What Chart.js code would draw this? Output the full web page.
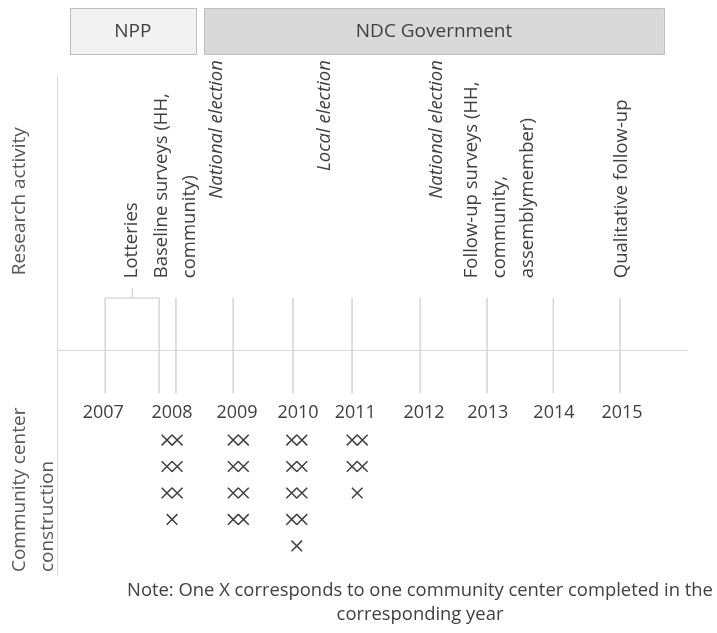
<!DOCTYPE html>
<html>
<head>
<meta charset="utf-8">
<script src="https://cdn.jsdelivr.net/npm/chart.js@4.4.1/dist/chart.umd.min.js"></script>
<style>
    html, body { margin: 0; padding: 0; background: #fff; }
</style>
</head>
<body>
<canvas id="timelineChart" width="717" height="633"></canvas>
<script>
// Year axis
const YEARS = ['2007', '2008', '2009', '2010', '2011', '2012', '2013', '2014', '2015'];
const YEAR_POS = [2006.97, 2008.04, 2009.05, 2010.0, 2010.89, 2011.96, 2012.95, 2013.98, 2015.04];

// Vertical event lines (timeline marks) and the lottery bracket
const EVENT_LINES = [2007.0, 2007.84, 2008.10, 2008.99, 2009.92, 2010.84, 2011.90, 2012.94, 2013.97, 2015.01];
const LOTTERY_START = 2007.0;
const LOTTERY_END = 2007.84;

// Community centers completed per year (one X each)
const CONSTRUCTION_YEARS = ['2008', '2009', '2010', '2011'];
const CONSTRUCTION_POS = [2008.04, 2009.07, 2009.98, 2010.92];
const CENTERS_COMPLETED = [7, 8, 9, 5];

// Governments
const GOVERNMENTS = ['NPP', 'NDC Government'];
const GOV_START = [2006.45, 2008.54];
const GOV_END = [2008.41, 2015.69];
const GOV_FILL = ['#f2f2f2', '#d9d9d9'];

// Research activity labels
const ACTIVITY_LABELS = [
    ['Lotteries'],
    ['Baseline surveys (HH,', 'community)'],
    ['National election'],
    ['Local election'],
    ['National election'],
    ['Follow-up surveys (HH,', 'community,', 'assemblymember)'],
    ['Qualitative follow-up']
];
const ACTIVITY_POS = [2007.42, 2008.10, 2008.74, 2010.42, 2012.16, 2013.14, 2015.04];
const ACTIVITY_ITALIC = [false, false, true, true, true, false, false];

const NOTE_LINES = [
    'Note: One X corresponds to one community center completed in the',
    'corresponding year'
];

const FONT = "'Open Sans', Lato, sans-serif";
const TEXT_COLOR = '#404040';
const LINE_COLOR = '#d9d9d9';

// layout of the drawing in y units (baseline = 0)
const LINE_TOP = 1.97;
const LINE_BOTTOM = -1.63;
const STEM_TOP = 2.34;
const ROW_START = -3.4;
const LABEL_BOTTOM = 2.72;
const ITALIC_TOP = 10.96;
const PAIR_OFFSET = 0.08;

// build datasets
const eventLineData = [];
EVENT_LINES.forEach(x => {
    eventLineData.push({x: x, y: LINE_TOP}, {x: x, y: LINE_BOTTOM}, {x: x, y: null});
});

const lotteryMid = (LOTTERY_START + LOTTERY_END) / 2;
const bracketData = [
    {x: LOTTERY_START, y: LINE_TOP}, {x: LOTTERY_END, y: LINE_TOP}, {x: LOTTERY_END, y: null},
    {x: lotteryMid, y: LINE_TOP}, {x: lotteryMid, y: STEM_TOP}
];

const centerPoints = [];
CENTERS_COMPLETED.forEach((count, i) => {
    const cx = CONSTRUCTION_POS[i];
    for (let row = 0; row * 2 < count; row++) {
        const y = ROW_START - row;
        if (count - row * 2 >= 2) {
            centerPoints.push({x: cx - PAIR_OFFSET, y: y}, {x: cx + PAIR_OFFSET, y: y});
        } else {
            centerPoints.push({x: cx, y: y});
        }
    }
});

function drawRotated(ctx, lines, cx, anchorY, align, spacing) {
    ctx.save();
    ctx.translate(cx, anchorY);
    ctx.rotate(-Math.PI / 2);
    ctx.textAlign = align;
    ctx.textBaseline = 'middle';
    lines.forEach((line, j) => {
        ctx.fillText(line, 0, (j - (lines.length - 1) / 2) * spacing);
    });
    ctx.restore();
}

const annotationPlugin = {
    id: 'timelineText',
    afterDraw(chart) {
        const ctx = chart.ctx;
        const xs = chart.scales.x;
        const ys = chart.scales.y;

        // government boxes
        GOVERNMENTS.forEach((name, i) => {
            const x1 = xs.getPixelForValue(GOV_START[i]);
            const x2 = xs.getPixelForValue(GOV_END[i]);
            ctx.save();
            ctx.fillStyle = GOV_FILL[i];
            ctx.strokeStyle = '#bfbfbf';
            ctx.lineWidth = 1;
            ctx.fillRect(x1, 8, x2 - x1, 47);
            ctx.strokeRect(Math.round(x1) + 0.5, 8.5, Math.round(x2 - x1), 46);
            ctx.fillStyle = TEXT_COLOR;
            ctx.font = '19px ' + FONT;
            ctx.textAlign = 'center';
            ctx.textBaseline = 'middle';
            ctx.fillText(name, (x1 + x2) / 2, 32);
            ctx.restore();
        });

        // research activity labels
        ctx.save();
        ctx.fillStyle = TEXT_COLOR;
        ACTIVITY_LABELS.forEach((lines, i) => {
            const cx = xs.getPixelForValue(ACTIVITY_POS[i]);
            if (ACTIVITY_ITALIC[i]) {
                ctx.font = 'italic 18.5px ' + FONT;
                drawRotated(ctx, lines, cx, ys.getPixelForValue(ITALIC_TOP), 'right', 28);
            } else {
                ctx.font = '18.5px ' + FONT;
                drawRotated(ctx, lines, cx, ys.getPixelForValue(LABEL_BOTTOM), 'left', 28);
            }
        });
        ctx.restore();

        // side titles
        ctx.save();
        ctx.fillStyle = '#595959';
        ctx.font = '19px ' + FONT;
        drawRotated(ctx, ['Research activity'], 20, ys.getPixelForValue(5.63), 'center', 28);
        drawRotated(ctx, ['Community center', 'construction'], 34, ys.getPixelForValue(-8.39), 'left', 28);
        ctx.restore();

        // note
        ctx.save();
        ctx.fillStyle = TEXT_COLOR;
        ctx.font = '18.4px ' + FONT;
        ctx.textAlign = 'center';
        ctx.textBaseline = 'middle';
        NOTE_LINES.forEach((line, j) => ctx.fillText(line, 420, 591 + j * 24));
        ctx.restore();
    }
};

const ctx = document.getElementById('timelineChart').getContext('2d');
const timelineChart = new Chart(ctx, {
    type: 'scatter',
    data: {
        datasets: [
            {
                label: 'Events',
                data: eventLineData,
                showLine: true,
                borderColor: LINE_COLOR,
                borderWidth: 1,
                pointRadius: 0,
                spanGaps: false
            },
            {
                label: 'Lotteries',
                data: bracketData,
                showLine: true,
                borderColor: '#c8c8c8',
                borderWidth: 1,
                pointRadius: 0,
                spanGaps: false
            },
            {
                label: 'Community centers',
                data: centerPoints,
                showLine: false,
                pointStyle: 'crossRot',
                pointRadius: 7.5,
                borderColor: TEXT_COLOR,
                borderWidth: 1.5
            }
        ]
    },
    options: {
        responsive: false,
        animation: false,
        layout: { padding: { left: 57, right: 30, top: 75, bottom: 58 } },
        plugins: {
            legend: { display: false },
            tooltip: { enabled: false },
            title: { display: false }
        },
        scales: {
            x: {
                type: 'linear',
                position: { y: 0 },
                min: 2006.25,
                max: 2016.05,
                afterBuildTicks: scale => {
                    scale.ticks = YEAR_POS.map(v => ({ value: v }));
                },
                ticks: {
                    callback: (value, index) => YEARS[index],
                    autoSkip: false,
                    maxRotation: 0,
                    padding: 52,
                    color: TEXT_COLOR,
                    font: { family: FONT, size: 18 }
                },
                grid: { display: false, drawTicks: false },
                border: { display: true, color: LINE_COLOR, width: 1 }
            },
            y: {
                type: 'linear',
                position: 'left',
                min: -8.5,
                max: 10.4,
                ticks: { display: false },
                grid: { display: false, drawTicks: false },
                border: { display: true, color: LINE_COLOR, width: 1 }
            }
        }
    },
    plugins: [annotationPlugin]
});
</script>
</body>
</html>
